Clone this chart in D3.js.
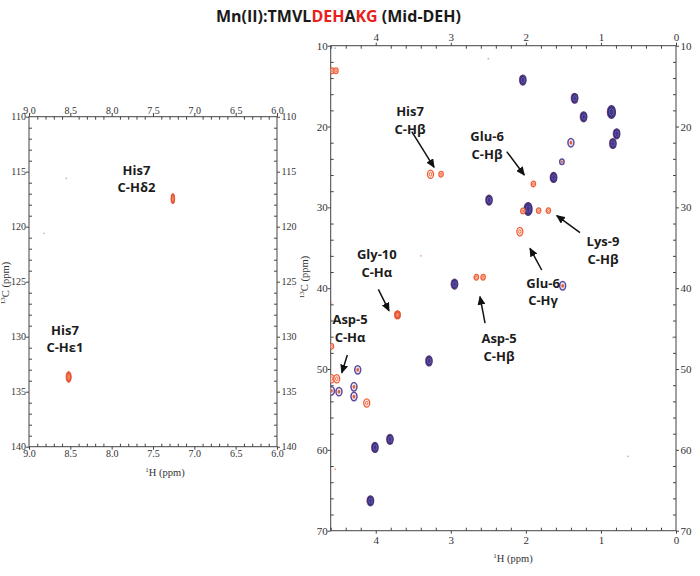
<!DOCTYPE html>
<html>
<head>
<meta charset="utf-8">
<script src="https://cdn.jsdelivr.net/npm/d3@7/dist/d3.min.js"></script>
<style>
body{margin:0;background:#fff}
svg{display:block}
.tick text{font-family:"Liberation Serif","Times New Roman",serif;fill:#333}
.tick line{stroke:#444}
.lbl{font-family:"Open Sans",sans-serif;font-weight:bold;font-size:13px;fill:#1c1c1c}
.axlab{font-family:"Liberation Serif","Times New Roman",serif;font-size:10.5px;fill:#333}
</style>
</head>
<body>
<svg width="700" height="576"></svg>
<script>
// title pieces, red ones are the mid-sequence residues
var titleParts = ["Mn(II):TMVL", "DEH", "A", "KG", " (Mid-DEH)"];
var titleRed   = [false, true, false, true, false];

// aromatic region peaks (1H ppm / 13C ppm / contour levels)
var aroH     = [7.26, 8.52];
var aroC     = [117.45, 133.66];
var aroLevel = [1, 2];

// aliphatic region peaks
// kind: b = both spectra (blue on top), p = overlapped/mixed, r = Mn(II) only, R = strong Mn(II) only
var aliH = [2.04, 1.35, 1.23, 0.86, 0.79, 0.84, 2.49, 1.97, 1.63, 2.95, 3.29, 3.81, 4.01, 4.07,
            1.40, 1.52, 1.51, 4.24, 4.29, 4.29, 4.49, 4.59,
            4.58, 4.53, 3.27, 3.13, 1.90, 2.04, 1.83, 1.70, 2.08, 2.57, 2.66, 4.59, 4.52, 4.12, 4.59,
            3.71];
var aliC = [14.25, 16.5, 18.8, 18.2, 20.9, 22.1, 29.1, 30.2, 26.3, 39.5, 49.0, 58.7, 59.7, 66.3,
            22.0, 24.35, 39.7, 50.1, 52.2, 53.4, 52.8, 52.7,
            13.1, 13.1, 25.9, 25.9, 27.1, 30.45, 30.4, 30.4, 33.0, 38.65, 38.65, 51.2, 51.2, 54.2, 47.2,
            43.3];
var aliKind = ["b","b","b","b","b","b","b","b","b","b","b","b","b","b",
               "p","p","p","p","p","p","p","p",
               "r","r","r","r","r","r","r","r","r","r","r","r","r","r","r",
               "R"];
var aliLevel = [3, 3, 3, 4, 3, 3, 3, 4, 3, 3, 3, 3, 3, 3,
                2, 1, 2, 2, 2, 2, 2, 2,
                1, 1, 2, 1, 1, 1, 1, 1, 2, 1, 1, 2, 2, 2, 1,
                2];

// specks of noise in both spectra
var noiseH     = [8.55, 8.82, 4.54, 2.50, 3.40, 4.59, 4.54, 0.64, 0.04];
var noiseC     = [115.6, 120.6, 10.3, 11.6, 36.0, 41.8, 62.4, 60.8, 46.1];
var noisePanel = ["aro", "aro", "ali", "ali", "ali", "ali", "ali", "ali", "ali"];

// assignment labels: first line, second line, anchor (ppm) of first-line baseline
var aroLab1 = ["His7", "His7"];
var aroLab2 = ["C-H\u03b42", "C-H\u03b51"];
var aroLabH = [7.70, 8.565];
var aroLabC = [115.27, 129.8];

var aliLab1 = ["His7", "Glu-6", "Lys-9", "Glu-6", "Asp-5", "Gly-10", "Asp-5"];
var aliLab2 = ["C-H\u03b2", "C-H\u03b2", "C-H\u03b2", "C-H\u03b3", "C-H\u03b2", "C-H\u03b1", "C-H\u03b1"];
var aliLabH = [3.543, 2.517, 0.972, 1.771, 2.357, 3.986, 4.342];
var aliLabC = [18.70, 21.79, 34.78, 39.97, 46.78, 36.39, 44.43];
// arrows (ppm) from the label to the peak
var arrFromH = [3.52, 2.255, 1.279, 1.789, 2.544, 3.965, 4.378];
var arrFromC = [20.62, 23.11, 33.13, 37.75, 44.31, 40.14, 48.27];
var arrToH   = [3.223, 2.021, 1.589, 1.945, 2.611, 3.823, 4.452];
var arrToC   = [25.04, 26.0, 31.03, 35.07, 41.05, 42.79, 50.46];

var svg = d3.select("svg");

// arrow head
svg.append("defs").append("marker")
  .attr("id", "head")
  .attr("markerUnits", "userSpaceOnUse")
  .attr("markerWidth", 9).attr("markerHeight", 8)
  .attr("refX", 8).attr("refY", 4)
  .attr("orient", "auto")
  .append("path")
  .attr("d", "M0,0 L9,4 L0,8 z")
  .attr("fill", "#111");

// title
var title = svg.append("text")
  .attr("x", 338.5).attr("y", 22)
  .attr("text-anchor", "middle")
  .attr("font-family", "'Open Sans',sans-serif")
  .attr("font-weight", "bold")
  .attr("font-size", 16);
title.selectAll("tspan")
  .data(titleParts)
  .enter().append("tspan")
  .text(function(d) { return d; })
  .attr("fill", function(d, i) { return titleRed[i] ? "#e8201c" : "#1a1a1a"; });

function steps(lo, hi, step) {
  var out = [];
  for (var i = 0; lo + i * step <= hi + 1e-9; i++) out.push(+(lo + i * step).toFixed(4));
  return out;
}

var panels = [
  {name: "aro", x0: 29, x1: 277, y0: 116.7, y1: 446.7, hDom: [9, 6], cDom: [110, 140],
   hMajor: 0.5, hMinor: 0.1, cMajor: 5, cMinor: 1, hFmt: d3.format(".1f"), fs: 10,
   pads: {top: 0, bottom: 0.5, left: 0, right: 1.5},
   xLab: [165, 476], yLab: [9, 283]},
  {name: "ali", x0: 330.7, x1: 676, y0: 45.7, y1: 530.7, hDom: [4.6, 0], cDom: [10, 70],
   hMajor: 1, hMinor: 0.2, cMajor: 10, cMinor: 2, hFmt: d3.format("d"), fs: 11,
   pads: {top: 1.7, bottom: 2.5, left: 0, right: 1.5},
   xLab: [513, 562], yLab: [308, 277]}
];

panels.forEach(function(p) {
  p.x = d3.scaleLinear().domain(p.hDom).range([p.x0, p.x1]);
  p.y = d3.scaleLinear().domain(p.cDom).range([p.y0, p.y1]);
  var hLo = Math.min(p.hDom[0], p.hDom[1]), hHi = Math.max(p.hDom[0], p.hDom[1]);
  var hMaj = steps(Math.ceil(hLo / p.hMajor) * p.hMajor, hHi, p.hMajor);
  var hMin = steps(Math.ceil(hLo / p.hMinor) * p.hMinor, hHi, p.hMinor)
    .filter(function(v) { return hMaj.indexOf(v) < 0; });
  var cMaj = steps(p.cDom[0], p.cDom[1], p.cMajor);
  var cMin = steps(p.cDom[0], p.cDom[1], p.cMinor)
    .filter(function(v) { return cMaj.indexOf(v) < 0; });

  var g = svg.append("g");

  // clip for peaks
  svg.select("defs").append("clipPath").attr("id", "clip-" + p.name)
    .append("rect")
    .attr("x", p.x0).attr("y", p.y0)
    .attr("width", p.x1 - p.x0).attr("height", p.y1 - p.y0);

  // axes on four sides: major labelled outward, minor inward
  var sides = [
    {mk: d3.axisTop, scale: p.x, maj: hMaj, min: hMin, fmt: p.hFmt, t: "translate(0," + p.y0 + ")", pad: p.pads.top},
    {mk: d3.axisBottom, scale: p.x, maj: hMaj, min: hMin, fmt: p.hFmt, t: "translate(0," + p.y1 + ")", pad: p.pads.bottom},
    {mk: d3.axisLeft, scale: p.y, maj: cMaj, min: cMin, fmt: d3.format("d"), t: "translate(" + p.x0 + ",0)", pad: p.pads.left},
    {mk: d3.axisRight, scale: p.y, maj: cMaj, min: cMin, fmt: d3.format("d"), t: "translate(" + p.x1 + ",0)", pad: p.pads.right}
  ];
  sides.forEach(function(s) {
    g.append("g").attr("transform", s.t)
      .call(s.mk(s.scale).tickValues(s.min).tickSize(-3).tickFormat(""))
      .call(function(a) { a.select(".domain").remove(); });
    g.append("g").attr("transform", s.t)
      .call(s.mk(s.scale).tickValues(s.maj).tickSize(3).tickPadding(s.pad).tickFormat(s.fmt))
      .call(function(a) {
        a.select(".domain").remove();
        a.selectAll("text").attr("font-size", p.fs);
      });
  });

  // frame
  g.append("rect")
    .attr("x", p.x0).attr("y", p.y0)
    .attr("width", p.x1 - p.x0).attr("height", p.y1 - p.y0)
    .attr("fill", "none").attr("stroke", "#444").attr("stroke-width", 1);

  // axis titles
  var xl = g.append("text").attr("class", "axlab")
    .attr("x", p.xLab[0]).attr("y", p.xLab[1]).attr("text-anchor", "middle");
  xl.append("tspan").text("1").attr("font-size", 7).attr("dy", -4);
  xl.append("tspan").text("H  (ppm)").attr("dy", 4);

  var yl = g.append("text").attr("class", "axlab")
    .attr("transform", "translate(" + p.yLab[0] + "," + p.yLab[1] + ") rotate(-90)")
    .attr("text-anchor", "middle");
  yl.append("tspan").text("13").attr("font-size", 7).attr("dy", -4);
  yl.append("tspan").text("C  (ppm)").attr("dy", 4);

  p.peaks = svg.append("g").attr("clip-path", "url(#clip-" + p.name + ")");
});

var aro = panels[0], ali = panels[1];

// noise specks
noiseH.forEach(function(h, i) {
  var p = noisePanel[i] == "aro" ? aro : ali;
  p.peaks.append("circle")
    .attr("cx", p.x(h)).attr("cy", p.y(noiseC[i]))
    .attr("r", 0.9)
    .attr("fill", i == 4 || i == 5 || i == 6 ? "#f4a080" : "#b8b8c8");
});

// aromatic peaks: narrow filled red contours
var aroRx = d3.scaleLinear().domain([1, 2]).range([1.9, 2.6]);
var aroRy = d3.scaleLinear().domain([1, 2]).range([5.2, 5.5]);
aro.peaks.selectAll(".pk")
  .data(aroH)
  .enter().append("g")
  .attr("class", "pk")
  .attr("transform", function(d, i) { return "translate(" + aro.x(d) + "," + aro.y(aroC[i]) + ")"; })
  .each(function(d, i) {
    var el = d3.select(this);
    el.append("ellipse").attr("rx", aroRx(aroLevel[i])).attr("ry", aroRy(aroLevel[i]))
      .attr("fill", "#ec5a35").attr("stroke", "#e04826").attr("stroke-width", 0.8);
    el.append("ellipse").attr("rx", aroRx(aroLevel[i]) * 0.45).attr("ry", aroRy(aroLevel[i]) * 0.5)
      .attr("fill", "#f58a66");
  });

// aliphatic peaks: contour rings
var rx = d3.scaleLinear().domain([1, 4]).range([2.2, 4.6]);
var ry = d3.scaleLinear().domain([1, 4]).range([2.8, 7.0]);
ali.peaks.selectAll(".pk")
  .data(aliH)
  .enter().append("g")
  .attr("class", "pk")
  .attr("transform", function(d, i) { return "translate(" + ali.x(d) + "," + ali.y(aliC[i]) + ")"; })
  .each(function(d, i) {
    var el = d3.select(this), k = aliKind[i], a = rx(aliLevel[i]), b = ry(aliLevel[i]);
    if (k == "b") {
      el.append("ellipse").attr("rx", a).attr("ry", b).attr("fill", "#2c2f86");
      el.append("ellipse").attr("cx", -0.6).attr("rx", a * 0.8).attr("ry", b * 0.85)
        .attr("fill", "none").attr("stroke", "#c9443a").attr("stroke-width", 0.7).attr("opacity", 0.6);
      el.append("ellipse").attr("rx", a * 0.45).attr("ry", b * 0.5)
        .attr("fill", "#3b3590").attr("stroke", "#7461ad").attr("stroke-width", 0.8);
    } else if (k == "p") {
      el.append("ellipse").attr("rx", a).attr("ry", b)
        .attr("fill", "#f1e3ea").attr("stroke", "#5b4d9d").attr("stroke-width", 1.5);
      el.append("ellipse").attr("rx", a * 0.45).attr("ry", b * 0.45).attr("fill", "#e0603e");
    } else if (k == "r") {
      el.append("ellipse").attr("rx", a).attr("ry", b)
        .attr("fill", "#fff0e8").attr("stroke", "#f0603a").attr("stroke-width", 1.3);
      el.append("ellipse").attr("rx", a * 0.4).attr("ry", b * 0.45)
        .attr("fill", "none").attr("stroke", "#f0603a").attr("stroke-width", 0.9);
    } else {
      el.append("ellipse").attr("rx", a).attr("ry", b)
        .attr("fill", "#ec5a35").attr("stroke", "#e04826").attr("stroke-width", 0.8);
      el.append("ellipse").attr("rx", a * 0.45).attr("ry", b * 0.5).attr("fill", "#f58a66");
    }
  });

// labels
function addLabels(p, l1, l2, hs, cs) {
  l1.forEach(function(t, i) {
    var x = p.x(hs[i]), y = p.y(cs[i]);
    svg.append("text").attr("class", "lbl")
      .attr("x", x).attr("y", y).attr("text-anchor", "middle").text(t);
    svg.append("text").attr("class", "lbl")
      .attr("x", x).attr("y", y + 17.5).attr("text-anchor", "middle").text(l2[i]);
  });
}
addLabels(aro, aroLab1, aroLab2, aroLabH, aroLabC);
addLabels(ali, aliLab1, aliLab2, aliLabH, aliLabC);

// arrows
svg.selectAll(".arr")
  .data(arrFromH)
  .enter().append("line")
  .attr("class", "arr")
  .attr("x1", function(d) { return ali.x(d); })
  .attr("y1", function(d, i) { return ali.y(arrFromC[i]); })
  .attr("x2", function(d, i) { return ali.x(arrToH[i]); })
  .attr("y2", function(d, i) { return ali.y(arrToC[i]); })
  .attr("stroke", "#111")
  .attr("stroke-width", 1.5)
  .attr("marker-end", "url(#head)");
</script>
</body>
</html>
